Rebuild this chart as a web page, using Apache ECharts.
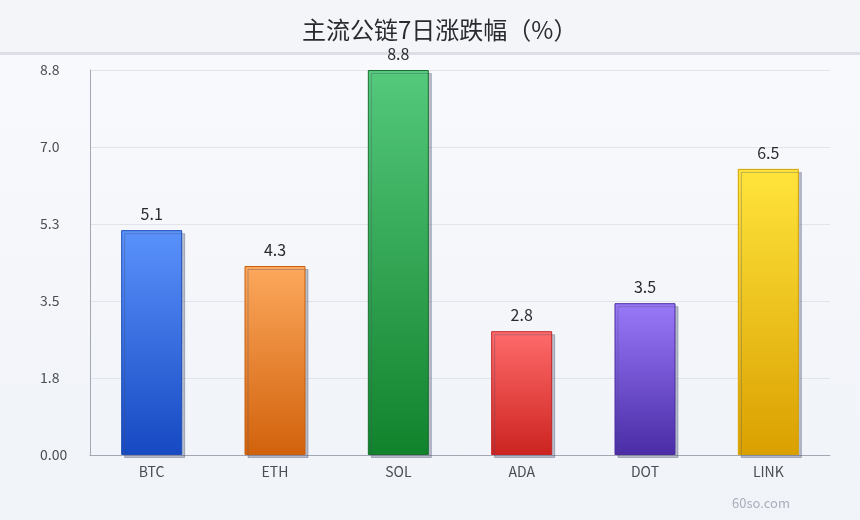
<!DOCTYPE html>
<html>
<head>
<meta charset="utf-8">
<script src="https://cdn.jsdelivr.net/npm/echarts@6/dist/echarts.min.js"></script>
<style>
html,body{margin:0;padding:0;}
#c{width:860px;height:520px;}
</style>
</head>
<body>
<div id="c"></div>
<script>
const categories = ['BTC', 'ETH', 'SOL', 'ADA', 'DOT', 'LINK'];
const values = [5.14, 4.32, 8.8, 2.83, 3.47, 6.54];
const topColors = ['#5a92fc', '#fca85c', '#55c97c', '#ff6b6b', '#9a79f9', '#ffe43c'];
const bottomColors = ['#1649c2', '#d2620c', '#11822c', '#cc2420', '#4a2ca6', '#daa000'];
const borderColors = ['#1e4fb8', '#c7600f', '#1b6e30', '#c0262a', '#4b2da0', '#d4a000'];
const titleText = '主流公链7日涨跌幅（%）';
const yMax = 8.8;
const yInterval = 1.76;

const chart = echarts.init(document.getElementById('c'));
const font = '"Noto Sans CJK SC", "Noto Sans", sans-serif';

chart.setOption({
  backgroundColor: {
    type: 'linear', x: 0, y: 0, x2: 0, y2: 1,
    colorStops: [{offset: 0, color: '#f9fafd'}, {offset: 1, color: '#f0f3f8'}]
  },
  textStyle: {fontFamily: font},
  graphic: [
    {type: 'rect', left: 0, top: 0, shape: {width: 860, height: 52}, style: {fill: '#f4f5f9'}, z: -1},
    {type: 'rect', left: 0, top: 52, shape: {width: 860, height: 3}, style: {fill: '#dcdfe6'}, z: -1},
    {type: 'text', right: 70, bottom: 10, style: {text: '60so.com', fill: '#a9aebb', font: '13px ' + font}}
  ],
  title: {
    text: titleText,
    left: 302,
    top: 18,
    padding: 0,
    textStyle: {fontFamily: font, fontSize: 24, fontWeight: 'normal', color: '#2a2b30'}
  },
  grid: {left: 90, right: 30, top: 70, bottom: 65},
  xAxis: {
    type: 'category',
    data: categories,
    axisLine: {lineStyle: {color: '#a3a7b3', width: 1}},
    axisTick: {show: false},
    axisLabel: {color: '#4a4d55', fontSize: 14, margin: 10, fontFamily: font}
  },
  yAxis: {
    type: 'value',
    min: 0,
    max: yMax,
    interval: yInterval,
    axisLine: {show: true, lineStyle: {color: '#a3a7b3', width: 1}},
    axisTick: {show: false},
    splitLine: {lineStyle: {color: '#e1e4ea', width: 1}},
    axisLabel: {
      color: '#4a4d55', fontSize: 14, margin: 50, align: 'left', fontFamily: font,
      formatter: v => v === 0 ? '0.00' : v.toFixed(1)
    }
  },
  series: [{
    type: 'bar',
    barWidth: 61,
    data: values.map((v, i) => ({
      value: v,
      itemStyle: {
        color: {
          type: 'linear', x: 0, y: 0, x2: 0, y2: 1,
          colorStops: [{offset: 0, color: topColors[i]}, {offset: 1, color: bottomColors[i]}]
        },
        borderColor: borderColors[i],
        borderWidth: 1,
        shadowColor: 'rgba(70,80,110,0.35)',
        shadowOffsetX: 3,
        shadowOffsetY: 3,
        shadowBlur: 0
      }
    })),
    label: {
      show: true,
      position: 'top',
      distance: 8,
      color: '#2a2b30',
      fontSize: 16,
      fontFamily: font,
      formatter: p => p.value.toFixed(1)
    }
  }]
});
</script>
</body>
</html>
